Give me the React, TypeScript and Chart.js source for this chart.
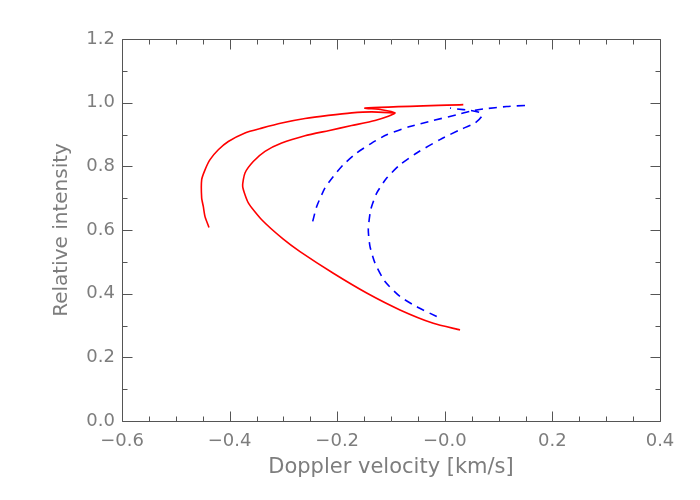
import React, { useEffect, useRef } from "react";
import { Chart, registerables } from "chart.js";

Chart.register(...registerables);

// ---- data (Doppler velocity [km/s], relative intensity) ----
const redOuterV = [-0.4383, -0.4457, -0.4489, -0.4519, -0.4519, -0.4457, -0.4364, -0.421, -0.4024, -0.3714, -0.3403, -0.3032, -0.2599, -0.2165, -0.1731, -0.1359, -0.0926];
const redOuterI = [0.608, 0.642, 0.674, 0.7, 0.758, 0.789, 0.821, 0.852, 0.878, 0.905, 0.92, 0.936, 0.95, 0.96, 0.968, 0.971, 0.968];

const redInnerV = [0.0283, -0.0214, -0.0833, -0.1452, -0.2072, -0.2691, -0.3002, -0.3403, -0.3652, -0.3757, -0.3714, -0.356, -0.3342, -0.3032, -0.2599, -0.2165, -0.1731, -0.1297, -0.105, -0.0926, -0.1173, -0.1483, 0.0344];
const redInnerI = [0.286, 0.307, 0.349, 0.402, 0.464, 0.532, 0.571, 0.632, 0.685, 0.737, 0.779, 0.815, 0.847, 0.873, 0.896, 0.912, 0.928, 0.944, 0.957, 0.968, 0.978, 0.983, 0.994];

const blueLeftV = [-0.2455, -0.2381, -0.2227, -0.2072, -0.1887, -0.1638, -0.1359, -0.108, -0.0647, -0.0214, 0.0221, 0.0468, 0.0716, 0.115, 0.1522];
const blueLeftI = [0.627, 0.674, 0.732, 0.768, 0.805, 0.842, 0.873, 0.899, 0.925, 0.944, 0.962, 0.973, 0.98, 0.988, 0.9915];

const blueRightV = [-0.015, -0.0522, -0.0833, -0.1112, -0.1297, -0.139, -0.1422, -0.1377, -0.1266, -0.108, -0.0833, -0.0522, -0.0089, 0.0283, 0.0561, 0.0686, 0.0654, 0.0468, 0.0221, 0.0097];
const blueRightI = [0.328, 0.359, 0.391, 0.438, 0.496, 0.548, 0.601, 0.664, 0.716, 0.763, 0.805, 0.842, 0.884, 0.915, 0.936, 0.957, 0.969, 0.976, 0.98, 0.983];

// ---- axes ----
const X_MIN = -0.6;
const X_MAX = 0.4;
const X_MAJOR = 0.2;
const X_MINOR = 0.05;
const Y_MIN = 0;
const Y_MAX = 1.2;
const Y_MAJOR = 0.2;
const Y_MINOR = 0.1;
const X_TITLE = "Doppler velocity [km/s]";
const Y_TITLE = "Relative intensity";

const LABEL_COLOR = "#7d7d7d";
const AXIS_COLOR = "#555555";
const FONT = "'DejaVu Sans', sans-serif";

const toPts = (vs: number[], is: number[]) => vs.map((v, k) => ({ x: v, y: is[k] }));

const fmtX = (v: number) => {
  const r = Math.round(v * 10) / 10;
  if (r <= 0) return "\u2212" + Math.abs(r).toFixed(1);
  return r.toFixed(1);
};

const framePlugin = {
  id: "idlFrame",
  afterDraw(chart: any) {
    const { ctx, chartArea: a, scales } = chart;
    const xs = scales.x;
    const ys = scales.y;
    ctx.save();
    ctx.strokeStyle = AXIS_COLOR;
    ctx.lineWidth = 1;
    const L = Math.round(a.left) + 0.5;
    const R = Math.round(a.right) + 0.5;
    const T = Math.round(a.top) + 0.5;
    const B = Math.round(a.bottom) + 0.5;
    ctx.beginPath();
    ctx.rect(L, T, R - L, B - T);
    const nx = Math.round((X_MAX - X_MIN) / X_MINOR);
    const perX = Math.round(X_MAJOR / X_MINOR);
    for (let k = 0; k <= nx; k++) {
      const v = X_MIN + k * X_MINOR;
      const px = Math.round(xs.getPixelForValue(v)) + 0.5;
      const len = k % perX === 0 ? 10 : 5;
      ctx.moveTo(px, B);
      ctx.lineTo(px, B - len);
      ctx.moveTo(px, T);
      ctx.lineTo(px, T + len);
    }
    const ny = Math.round((Y_MAX - Y_MIN) / Y_MINOR);
    const perY = Math.round(Y_MAJOR / Y_MINOR);
    for (let k = 0; k <= ny; k++) {
      const v = Y_MIN + k * Y_MINOR;
      const py = Math.round(ys.getPixelForValue(v)) + 0.5;
      const len = k % perY === 0 ? 10 : 5;
      ctx.moveTo(L, py);
      ctx.lineTo(L + len, py);
      ctx.moveTo(R, py);
      ctx.lineTo(R - len, py);
    }
    ctx.stroke();
    ctx.restore();
  },
};

export default function App() {
  const ref = useRef<HTMLCanvasElement | null>(null);

  useEffect(() => {
    if (!ref.current) return;
    const line = (data: any, color: string, dashed: boolean) => ({
      data,
      borderColor: color,
      backgroundColor: color,
      borderWidth: 1.6,
      borderDash: dashed ? [8, 6] : [],
      pointRadius: 0,
      tension: 0.2,
      fill: false,
    });
    const chart = new Chart(ref.current, {
      type: "line",
      data: {
        datasets: [
          line(toPts(redOuterV, redOuterI), "#ff0000", false),
          line(toPts(redInnerV, redInnerI), "#ff0000", false),
          line(toPts(blueLeftV, blueLeftI), "#0000ff", true),
          line(toPts(blueRightV, blueRightI), "#0000ff", true),
        ],
      },
      options: {
        animation: false,
        responsive: false,
        devicePixelRatio: 1,
        layout: { padding: { left: 0, top: 39, right: 40, bottom: 0 } },
        plugins: { legend: { display: false }, tooltip: { enabled: false } },
        scales: {
          x: {
            type: "linear",
            min: X_MIN,
            max: X_MAX,
            border: { display: false },
            grid: { display: false, drawTicks: false },
            ticks: {
              stepSize: X_MAJOR,
              padding: 10,
              color: LABEL_COLOR,
              font: { family: FONT, size: 18 },
              maxRotation: 0,
              callback: (v: any) => fmtX(Number(v)),
            },
            title: {
              display: true,
              text: X_TITLE,
              color: LABEL_COLOR,
              font: { family: FONT, size: 21 },
              padding: { top: 0, bottom: 20 },
            },
            afterFit: (s: any) => {
              s.height = 79;
              s.paddingLeft = 0;
              s.paddingRight = 0;
            },
          },
          y: {
            type: "linear",
            min: Y_MIN,
            max: Y_MAX,
            border: { display: false },
            grid: { display: false, drawTicks: false },
            ticks: {
              stepSize: Y_MAJOR,
              padding: 7,
              color: LABEL_COLOR,
              font: { family: FONT, size: 18 },
              callback: (v: any) => (Math.round(Number(v) * 10) / 10).toFixed(1),
            },
            title: {
              display: true,
              text: Y_TITLE,
              color: LABEL_COLOR,
              font: { family: FONT, size: 20 },
              padding: { top: 50, bottom: 0 },
            },
            afterFit: (s: any) => {
              s.width = 122;
              s.paddingTop = 0;
              s.paddingBottom = 0;
            },
          },
        },
      },
      plugins: [framePlugin],
    } as any);
    return () => chart.destroy();
  }, []);

  return (
    <div style={{ position: "absolute", left: 0, top: 0, width: 700, height: 500, background: "#fff" }}>
      <canvas ref={ref} width={700} height={500} style={{ display: "block", width: 700, height: 500 }} />
    </div>
  );
}
